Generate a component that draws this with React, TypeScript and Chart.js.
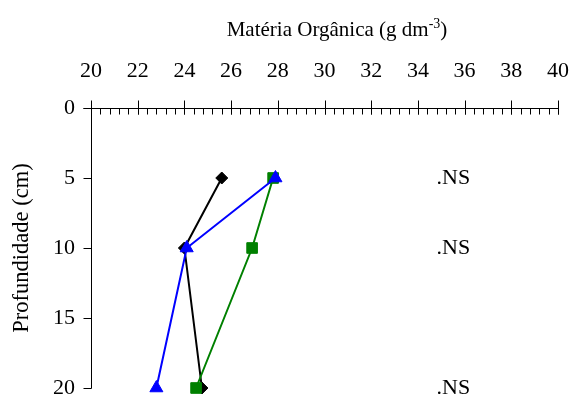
import { useEffect, useRef } from 'react';
import { Chart, registerables } from 'chart.js';

Chart.register(...registerables);

// Soil depth (cm) of each sampling layer
const depths = [5, 10, 20];
// Organic matter (g dm-3) per treatment
const seriesDiamond = [25.6, 24.0, 24.75];
const seriesSquare = [27.8, 26.9, 24.5];
const seriesTriangle = [27.9, 24.1, 22.8];

// Significance notes shown beside each layer
const nsDepths = [5, 10, 20];
const nsLabel = '.NS';
const nsX = 34.8;

const xMin = 20;
const xMax = 40;
const xStep = 2;
const xMinorStep = 0.4;
const yMin = 0;
const yMax = 20;
const yStep = 5;

const xTitle = 'Matéria Orgânica (g dm';
const xTitleSup = '-3';
const xTitleEnd = ')';
const yTitle = 'Profundidade (cm)';

const FONT = '"Liberation Serif", "Times New Roman", Times, serif';

const toPoints = (vals: number[]) => vals.map((v, i) => ({ x: v, y: depths[i] }));

// Draws the axis lines, cross/inside ticks, the top title and the NS notes
const axesPlugin = {
  id: 'profileAxes',
  beforeDatasetsDraw(chart: any) {
    const { ctx, chartArea, scales } = chart;
    const xs = scales.x;
    const ys = scales.y;
    const top = Math.round(chartArea.top) + 0.5;
    const left = Math.round(chartArea.left) + 0.5;
    ctx.save();
    ctx.strokeStyle = '#000';
    ctx.lineWidth = 1;
    ctx.beginPath();
    // x axis line (top)
    ctx.moveTo(left - 8, top);
    ctx.lineTo(Math.round(chartArea.right) + 0.5, top);
    // y axis line
    ctx.moveTo(left, top);
    ctx.lineTo(left, Math.round(chartArea.bottom) + 0.5);
    // minor x ticks, inside
    const nMinor = Math.round((xMax - xMin) / xMinorStep);
    for (let i = 0; i <= nMinor; i++) {
      const v = xMin + i * xMinorStep;
      const px = Math.round(xs.getPixelForValue(v)) + 0.5;
      ctx.moveTo(px, top);
      ctx.lineTo(px, top + 6);
    }
    // major x ticks, crossing
    for (let v = xMin; v <= xMax + 1e-9; v += xStep) {
      const px = Math.round(xs.getPixelForValue(v)) + 0.5;
      ctx.moveTo(px, top - 8);
      ctx.lineTo(px, top + 6);
    }
    // y ticks, outside
    for (let v = yMin; v <= yMax + 1e-9; v += yStep) {
      const py = Math.round(ys.getPixelForValue(v)) + 0.5;
      ctx.moveTo(left - 8, py);
      ctx.lineTo(left, py);
    }
    ctx.stroke();
    ctx.restore();
  },
  afterDraw(chart: any) {
    const { ctx, scales } = chart;
    const xs = scales.x;
    const ys = scales.y;
    ctx.save();
    ctx.fillStyle = '#000';
    ctx.textBaseline = 'alphabetic';
    // top title with superscript
    const mainFont = `21px ${FONT}`;
    const supFont = `14px ${FONT}`;
    ctx.font = mainFont;
    const w1 = ctx.measureText(xTitle).width;
    const w3 = ctx.measureText(xTitleEnd).width;
    ctx.font = supFont;
    const w2 = ctx.measureText(xTitleSup).width;
    const total = w1 + w2 + w3;
    const cx = 337;
    const base = 36;
    const x0 = cx - total / 2;
    ctx.textAlign = 'left';
    ctx.font = mainFont;
    ctx.fillText(xTitle, x0, base);
    ctx.font = supFont;
    ctx.fillText(xTitleSup, x0 + w1, base - 8);
    ctx.font = mainFont;
    ctx.fillText(xTitleEnd, x0 + w1 + w2, base);
    // NS notes
    ctx.font = `22px ${FONT}`;
    ctx.textBaseline = 'middle';
    nsDepths.forEach((d) => {
      ctx.fillText(nsLabel, xs.getPixelForValue(nsX), ys.getPixelForValue(d));
    });
    ctx.restore();
  },
};

const zeroPadding = (s: any) => {
  s.paddingLeft = 0;
  s.paddingRight = 0;
  s.paddingTop = 0;
  s.paddingBottom = 0;
};

export default function App() {
  const ref = useRef<HTMLCanvasElement | null>(null);

  useEffect(() => {
    if (!ref.current) return;
    const chart = new Chart(ref.current, {
      type: 'scatter',
      data: {
        datasets: [
          {
            label: 'C',
            data: toPoints(seriesTriangle),
            showLine: true,
            borderColor: '#0000ff',
            backgroundColor: '#0000ff',
            borderWidth: 2,
            pointStyle: 'triangle',
            pointRadius: 7.5,
            pointBorderWidth: 1,
            clip: false,
            order: 1,
          },
          {
            label: 'B',
            data: toPoints(seriesSquare),
            showLine: true,
            borderColor: '#008000',
            backgroundColor: '#008000',
            borderWidth: 2,
            pointStyle: 'rect',
            pointRadius: 7.5,
            pointBorderWidth: 1,
            clip: false,
            order: 2,
          },
          {
            label: 'A',
            data: toPoints(seriesDiamond),
            showLine: true,
            borderColor: '#000000',
            backgroundColor: '#000000',
            borderWidth: 2,
            pointStyle: 'rectRot',
            pointRadius: 6,
            pointBorderWidth: 1,
            clip: false,
            order: 3,
          },
        ],
      },
      options: {
        responsive: false,
        animation: false,
        layout: { padding: { left: 0, top: 0, right: 15, bottom: 10 } },
        plugins: {
          legend: { display: false },
          tooltip: { enabled: false },
        },
        scales: {
          x: {
            type: 'linear',
            position: 'top',
            min: xMin,
            max: xMax,
            ticks: {
              stepSize: xStep,
              padding: 24,
              color: '#000',
              font: { family: FONT, size: 22 },
            },
            grid: { display: false, drawTicks: false },
            border: { display: false },
            afterFit: (s: any) => {
              s.height = 108;
              zeroPadding(s);
            },
          },
          y: {
            type: 'linear',
            reverse: true,
            min: yMin,
            max: yMax,
            ticks: {
              stepSize: yStep,
              padding: 16,
              color: '#000',
              font: { family: FONT, size: 22 },
            },
            grid: { display: false, drawTicks: false },
            border: { display: false },
            title: {
              display: true,
              text: yTitle,
              color: '#000',
              font: { family: FONT, size: 22.5 },
              padding: { top: 9, bottom: 0 },
            },
            afterFit: (s: any) => {
              s.width = 91;
              zeroPadding(s);
            },
          },
        },
      },
      plugins: [axesPlugin],
    });
    return () => chart.destroy();
  }, []);

  return (
    <div style={{ position: 'fixed', left: 0, top: 0, width: 573, height: 398, background: '#fff' }}>
      <canvas ref={ref} width={573} height={398} style={{ width: 573, height: 398 }} />
    </div>
  );
}
